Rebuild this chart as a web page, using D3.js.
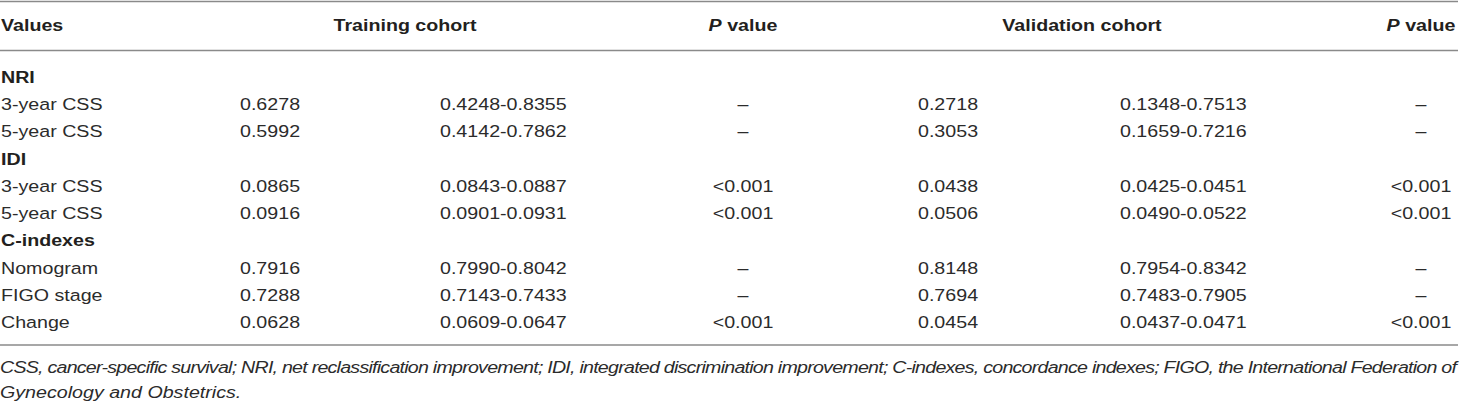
<!DOCTYPE html>
<html>
<head>
<meta charset="utf-8">
<script src="https://cdn.jsdelivr.net/npm/d3@7"></script>
<style>
  html, body { margin: 0; padding: 0; background: #fff; }
  svg { display: block; }
  text { font-family: "Liberation Sans", Arial, Helvetica, sans-serif; }
</style>
</head>
<body>
<svg id="chart" width="1460" height="403"></svg>
<script>
// ---- data ----
const headers = ["Values", "Training cohort", "P value", "Validation cohort", "P value"];
const rowLabels = ["NRI", "3-year CSS", "5-year CSS", "IDI", "3-year CSS", "5-year CSS", "C-indexes", "Nomogram", "FIGO stage", "Change"];
const sectionRows = ["NRI", "IDI", "C-indexes"];
const trainValue = ["", "0.6278", "0.5992", "", "0.0865", "0.0916", "", "0.7916", "0.7288", "0.0628"];
const trainCI = ["", "0.4248-0.8355", "0.4142-0.7862", "", "0.0843-0.0887", "0.0901-0.0931", "", "0.7990-0.8042", "0.7143-0.7433", "0.0609-0.0647"];
const trainP = ["", "–", "–", "", "<0.001", "<0.001", "", "–", "–", "<0.001"];
const valValue = ["", "0.2718", "0.3053", "", "0.0438", "0.0506", "", "0.8148", "0.7694", "0.0454"];
const valCI = ["", "0.1348-0.7513", "0.1659-0.7216", "", "0.0425-0.0451", "0.0490-0.0522", "", "0.7954-0.8342", "0.7483-0.7905", "0.0437-0.0471"];
const valP = ["", "–", "–", "", "<0.001", "<0.001", "", "–", "–", "<0.001"];
const footnote = [
  "CSS, cancer-specific survival; NRI, net reclassification improvement; IDI, integrated discrimination improvement; C-indexes, concordance indexes; FIGO, the International Federation of",
  "Gynecology and Obstetrics."
];

// ---- layout ----
const W = 1460, H = 403;
const sx = 1.13;            // horizontal stretch of the typeface
const fs = 17.4;
const ink = "#231f20";
const svg = d3.select("#chart");
const g = svg.append("g").attr("transform", `scale(${sx},1)`);
const X = v => v / sx;

const y = d3.scalePoint().domain(d3.range(rowLabels.length)).range([83, 328]);

// rules
const rules = [1.5, 50.5, 345];
svg.selectAll("line.rule").data(rules).join("line")
  .attr("class", "rule")
  .attr("x1", 0).attr("x2", 1458)
  .attr("y1", d => d).attr("y2", d => d)
  .attr("stroke", "#8a8a8a").attr("stroke-width", 1.5);

// header
const headerPos = [
  { x: 1, anchor: "start" },
  { x: 405, anchor: "middle" },
  { x: 743, anchor: "middle" },
  { x: 1082, anchor: "middle" },
  { x: 1421, anchor: "middle" }
];
headers.forEach((h, i) => {
  const t = g.append("text")
    .attr("x", X(headerPos[i].x)).attr("y", 31)
    .attr("text-anchor", headerPos[i].anchor)
    .attr("font-size", fs).attr("font-weight", "bold").attr("fill", ink);
  if (h.startsWith("P ")) {
    t.append("tspan").attr("font-style", "italic").text("P");
    t.append("tspan").text(" value");
  } else {
    t.text(h);
  }
});

// body columns
const cols = [
  { data: rowLabels, x: 1, anchor: "start" },
  { data: trainValue, x: 240, anchor: "start" },
  { data: trainCI, x: 440, anchor: "start" },
  { data: trainP, x: 743, anchor: "middle" },
  { data: valValue, x: 918, anchor: "start" },
  { data: valCI, x: 1120, anchor: "start" },
  { data: valP, x: 1421, anchor: "middle" }
];
cols.forEach((c, ci) => {
  g.append("g").selectAll("text").data(c.data).join("text")
    .attr("x", X(c.x))
    .attr("y", (d, i) => y(i))
    .attr("text-anchor", c.anchor)
    .attr("font-size", fs)
    .attr("font-weight", d => (ci === 0 && sectionRows.includes(d)) ? "bold" : "normal")
    .attr("fill", (d) => (ci === 0 && sectionRows.includes(d)) ? ink : "#2b2b2b")
    .text(d => d);
});

// footnote
g.append("text")
  .attr("x", X(0)).attr("y", 373)
  .attr("font-size", fs).attr("font-style", "italic").attr("fill", "#2b2b2b")
  .attr("textLength", X(1457)).attr("lengthAdjust", "spacing")
  .text(footnote[0]);
g.append("text")
  .attr("x", X(0)).attr("y", 398)
  .attr("font-size", fs).attr("font-style", "italic").attr("fill", "#2b2b2b")
  .text(footnote[1]);
</script>
</body>
</html>
